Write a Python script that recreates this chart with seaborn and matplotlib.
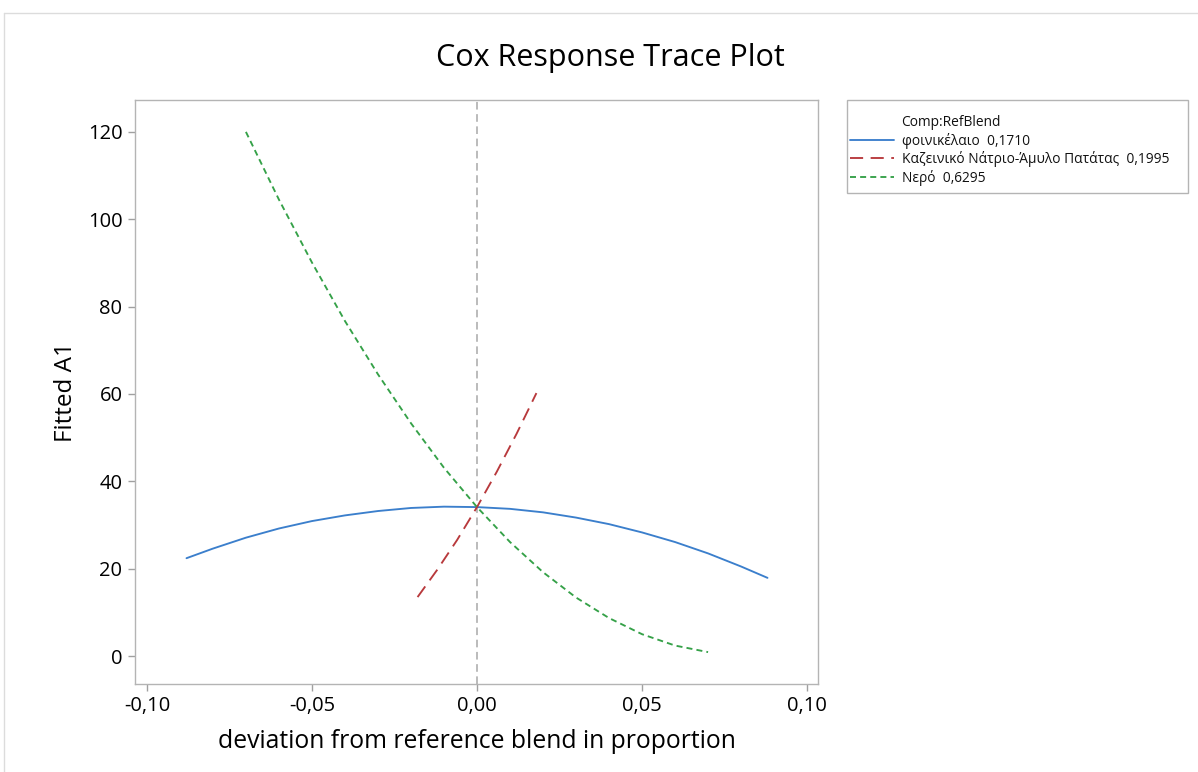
import matplotlib
matplotlib.use("Agg")
import matplotlib.pyplot as plt
from matplotlib.lines import Line2D
from matplotlib.patches import Rectangle
from matplotlib.ticker import FuncFormatter
import seaborn as sns
import pandas as pd

# Cox response trace: fitted response vs. deviation from the reference blend
comp_names = ["φοινικέλαιο  0,1710",
              "Καζεινικό Νάτριο-Άμυλο Πατάτας  0,1995",
              "Νερό  0,6295"]

palm_dev = [-0.088, -0.08, -0.07, -0.06, -0.05, -0.04, -0.03, -0.02, -0.01, 0.0,
            0.01, 0.02, 0.03, 0.04, 0.05, 0.06, 0.07, 0.08, 0.088]
palm_fit = [22.4, 24.6, 27.1, 29.2, 30.9, 32.2, 33.2, 33.9, 34.2, 34.1,
            33.7, 32.9, 31.7, 30.2, 28.3, 26.1, 23.5, 20.5, 17.9]

starch_dev = [-0.018, -0.012, -0.006, 0.0, 0.006, 0.012, 0.018]
starch_fit = [13.5, 19.8, 26.6, 34.1, 42.2, 50.9, 60.2]

water_dev = [-0.07, -0.06, -0.05, -0.04, -0.03, -0.02, -0.01, 0.0,
             0.01, 0.02, 0.03, 0.04, 0.05, 0.06, 0.07]
water_fit = [120.0, 104.5, 90.1, 76.7, 64.5, 53.3, 43.1, 34.1,
             26.1, 19.2, 13.4, 8.7, 5.0, 2.4, 0.9]

x_ticks = [-0.10, -0.05, 0.0, 0.05, 0.10]
y_ticks = [0, 20, 40, 60, 80, 100, 120]

df = pd.concat([
    pd.DataFrame({"dev": palm_dev, "fit": palm_fit, "comp": comp_names[0]}),
    pd.DataFrame({"dev": starch_dev, "fit": starch_fit, "comp": comp_names[1]}),
    pd.DataFrame({"dev": water_dev, "fit": water_fit, "comp": comp_names[2]}),
], ignore_index=True)

sns.set_theme(style="white")
plt.rcParams["font.family"] = ["Open Sans", "DejaVu Sans"]

colors = {comp_names[0]: "#3b7fcc", comp_names[1]: "#b8393c", comp_names[2]: "#35a148"}
dashes = {comp_names[0]: "", comp_names[1]: (7, 4), comp_names[2]: (3.2, 2.2)}

fig = plt.figure(figsize=(11.98, 7.72), dpi=100)
ax = fig.add_axes([135 / 1198, 1 - 684 / 772, 683 / 1198, 584 / 772])

ax.axvline(0, color="#a8a8a8", lw=1.1, ls=(0, (5, 3)), zorder=1)

sns.lineplot(data=df, x="dev", y="fit", hue="comp", style="comp",
             palette=colors, dashes=dashes, hue_order=comp_names,
             style_order=comp_names, sort=True, linewidth=1.35,
             legend=False, ax=ax, zorder=3)

ax.set_xlim(-0.1036, 0.1033)
ax.set_ylim(-6.4, 127.3)
ax.set_xticks(x_ticks)
ax.set_yticks(y_ticks)
ax.xaxis.set_major_formatter(FuncFormatter(lambda v, p: f"{v:.2f}".replace(".", ",")))
ax.tick_params(axis="both", which="major", direction="out", length=5, width=1,
               color="#a0a0a0", labelsize=14.5, labelcolor="#000000", pad=4,
               bottom=True, left=True)
for s in ax.spines.values():
    s.set_color("#b4b4b4")
    s.set_linewidth(1.0)

ax.set_xlabel("deviation from reference blend in proportion", fontsize=17.8,
              color="#000000", labelpad=9)
ax.set_ylabel("Fitted A1", fontsize=17.5, color="#000000", labelpad=7)

fig.text(610 / 1198, 1 - 58 / 772, "Cox Response Trace Plot", fontsize=22,
         ha="center", va="center", color="#000000")

# legend box
fig.add_artist(Rectangle((847 / 1198, 1 - 193 / 772), 341 / 1198, 93 / 772,
                         transform=fig.transFigure, fill=False,
                         edgecolor="#b4b4b4", lw=1.0))
handles = [Line2D([], [], color="none")]
labels = ["Comp:RefBlend"]
for name in comp_names:
    ls = "-" if dashes[name] == "" else (0, dashes[name])
    handles.append(Line2D([], [], color=colors[name], lw=1.35, ls=ls))
    labels.append(name)
fig.legend(handles, labels, loc="upper left",
           bbox_to_anchor=(850 / 1198, 1 - 115 / 772), frameon=False,
           fontsize=9.9, handlelength=3.2, handletextpad=0.55,
           labelspacing=0.19, borderpad=0, borderaxespad=0,
           labelcolor="#111111")

# outer frame
fig.add_artist(Line2D([4 / 1198, 1], [1 - 13 / 772, 1 - 13 / 772],
                      transform=fig.transFigure, color="#dcdcdc", lw=1.0))
fig.add_artist(Line2D([4 / 1198, 4 / 1198], [0, 1 - 13 / 772],
                      transform=fig.transFigure, color="#dcdcdc", lw=1.0))

fig.savefig("out.png", dpi=100)
